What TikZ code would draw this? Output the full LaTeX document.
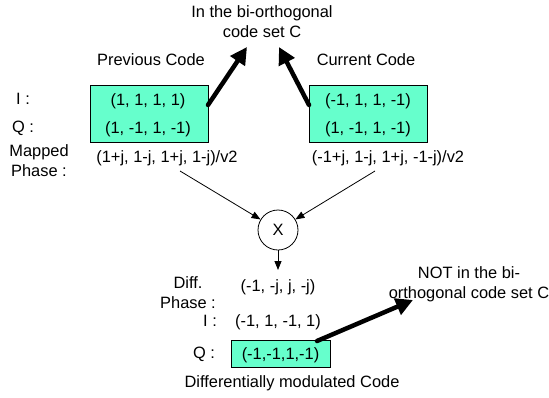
\documentclass[tikz,border=0pt]{standalone}
\usepackage{fontspec}
\setmainfont{Liberation Sans}
\usetikzlibrary{arrows.meta}
\definecolor{codefill}{HTML}{66FFCC}
\begin{document}
\begin{tikzpicture}[x=1pt,y=-1pt,
  every node/.style={font=\fontsize{16.4}{20}\selectfont, inner sep=0pt},
  codebox/.style={draw=black, line width=1pt, fill=codefill},
  bigarrow/.style={line width=4.5pt, line cap=round, -{Triangle[length=17pt,width=17pt]}},
  thinarrow/.style={line width=0.8pt, -{Triangle[length=9pt,width=7pt]}},
  mult/.style={circle, draw, line width=0.8pt, minimum size=40pt}]
\useasboundingbox (0,0) rectangle (549,397);

% top labels
\node[align=center] (inC) at (262,22) {In the bi-orthogonal\\code set C};
\node (prev) at (151,60) {Previous Code};
\node (curr) at (366,60) {Current Code};

% left code box
\node[codebox, minimum width=118pt, minimum height=57pt] (boxL) at (149,113.5) {};
\node (iL) at (148,101) {(1, 1, 1, 1)};
\node (qL) at (148,129) {(1, -1, 1, -1)};
\node (ilab) at (23,99) {I :};
\node (qlab) at (23,128) {Q :};
\node[align=center] (maplab) at (39,160.5) {Mapped\\Phase :};
\node (mapL) at (167,158) {(1+j, 1-j, 1+j, 1-j)/v2};

% right code box
\node[codebox, minimum width=118pt, minimum height=57pt] (boxR) at (368,113.5) {};
\node (iR) at (368,101) {(-1, 1, 1, -1)};
\node (qR) at (368,129) {(1, -1, 1, -1)};
\node (mapR) at (388,158) {(-1+j, 1-j, 1+j, -1-j)/v2};

% multiplier
\node[mult] (x) at (278,230) {X};
\coordinate (fromL) at (180,171);
\coordinate (fromR) at (375,171);
\coordinate (down) at (278,270);
\draw[thinarrow] (fromL) -- (x);
\draw[thinarrow] (fromR) -- (x);
\draw[thinarrow] (x) -- (down);

% bottom
\node[align=center] (difflab) at (188,292.5) {Diff.\\Phase :};
\node (diff) at (278,287) {(-1, -j, j, -j)};
\node (ilab2) at (210,321) {I :};
\node (iD) at (278,322) {(-1, 1, -1, 1)};
\node (qlab2) at (204,354) {Q :};
\node[codebox, minimum width=99pt, minimum height=27pt] (boxQ) at (280.5,353.5) {};
\node (qD) at (280.5,355) {(-1,-1,1,-1)};
\node (dmc) at (292,383) {Differentially modulated Code};
\node[align=center] (notC) at (469,284.5) {NOT in the bi-\\orthogonal code set C};

% thick arrows
\coordinate (aL) at (208,105);
\coordinate (tL) at (247,47);
\coordinate (aR) at (309,105);
\coordinate (tR) at (279,47);
\coordinate (aQ) at (317,341);
\coordinate (tQ) at (413,300);
\draw[bigarrow] (aL) -- (tL);
\draw[bigarrow] (aR) -- (tR);
\draw[bigarrow] (aQ) -- (tQ);
\end{tikzpicture}
\end{document}
